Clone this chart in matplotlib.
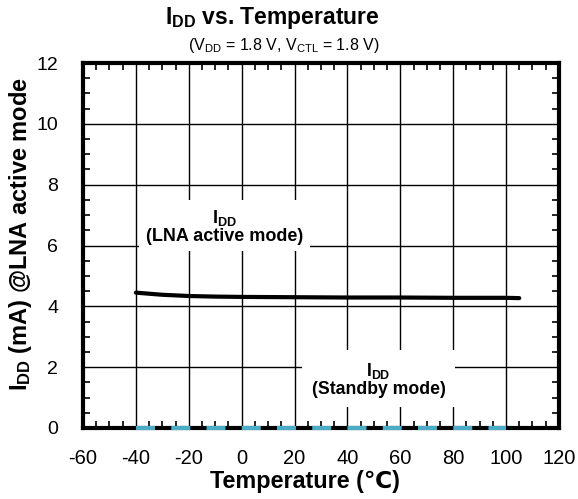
import numpy as np
import matplotlib.pyplot as plt
from matplotlib.ticker import MultipleLocator

plt.rcParams['font.family'] = ['Liberation Sans', 'DejaVu Sans']
plt.rcParams['axes.unicode_minus'] = False
plt.rcParams['mathtext.fontset'] = 'custom'
plt.rcParams['mathtext.bf'] = 'Liberation Sans:bold'
plt.rcParams['mathtext.rm'] = 'Liberation Sans'

# dados
temp = [-40, -30, -20, -10, 0, 20, 40, 60, 80, 100, 105]
idd_ativo = [4.45, 4.38, 4.34, 4.32, 4.31, 4.30, 4.29, 4.29, 4.28, 4.28, 4.27]
temp_standby = [-40, 100]
idd_standby = [0.0, 0.0]

fig = plt.figure(figsize=(5.78, 4.99), dpi=100)
ax = fig.add_axes([0.1436, 0.1423, 0.8234, 0.7314])

ax.plot(temp, idd_ativo, color='black', lw=3, solid_capstyle='round', zorder=3)
ax.plot(temp_standby, idd_standby, color='#4bacc6', lw=3,
        dashes=(4.56, 3.9), dash_capstyle='butt', zorder=4, clip_on=False)

ax.set_xlim(-60, 120)
ax.set_ylim(0, 12)
ax.xaxis.set_major_locator(MultipleLocator(20))
ax.xaxis.set_minor_locator(MultipleLocator(5))
ax.yaxis.set_major_locator(MultipleLocator(2))
ax.yaxis.set_minor_locator(MultipleLocator(0.5))
ax.grid(True, which='major', color='black', lw=1)
ax.tick_params(which='both', direction='in', top=True, right=True, labelsize=14)
ax.tick_params(which='major', length=0)
ax.tick_params(axis='x', which='major', pad=15, labelsize=14.5)
ax.tick_params(axis='y', which='major', pad=18)
ax.tick_params(which='minor', length=5, width=1.2)
for s in ax.spines.values():
    s.set_linewidth(3)

caixa = dict(facecolor='white', edgecolor='none', pad=5)
ax.text(-6.5, 6.63, r'$\mathbf{I_{DD}}$' + '\n(LNA active mode)', ha='center', va='center',
        fontsize=13, fontweight='bold', linespacing=0.95, bbox=caixa, zorder=5)
ax.text(51.8, 1.6, r'$\mathbf{I_{DD}}$' + '\n(Standby mode)', ha='center', va='center',
        fontsize=12.7, fontweight='bold', linespacing=0.95,
        bbox=dict(facecolor='white', edgecolor='none', pad=7), zorder=5)

fig.text(0.528, 0.036, 'Temperature (℃)', ha='center', va='center',
         fontsize=16.8, fontweight='bold')
fig.text(0.035, 0.531, r'$\mathbf{I_{DD}}$ (mA) @LNA active mode', ha='center', va='center',
         rotation=90, fontsize=17, fontweight='bold')
fig.text(0.471, 0.964, r'$\mathbf{I_{DD}}$ vs. Temperature', ha='center', va='center',
         fontsize=16.5, fontweight='bold')
fig.text(0.491, 0.908, r'($\mathrm{V_{DD}}$ = 1.8 V, $\mathrm{V_{CTL}}$ = 1.8 V)', ha='center',
         va='center', fontsize=11.5)

fig.savefig('out.png', dpi=100)
